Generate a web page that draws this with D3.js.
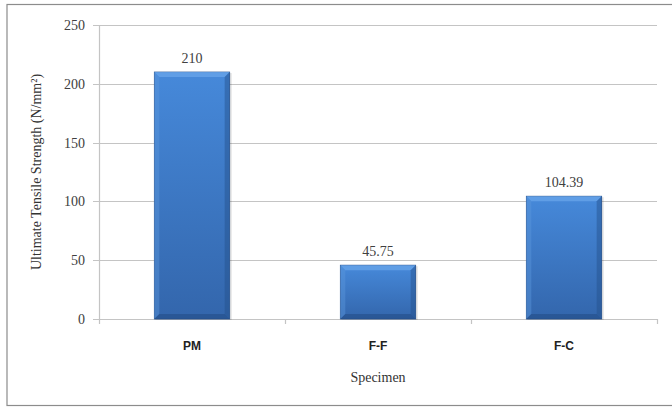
<!DOCTYPE html>
<html>
<head>
<meta charset="utf-8">
<script src="https://cdn.jsdelivr.net/npm/d3@7"></script>
<style>
  html, body { margin: 0; padding: 0; background: #fff; }
  svg { display: block; }
  .serif { font-family: "Liberation Serif", "Times New Roman", serif; }
  .sans { font-family: "Liberation Sans", Arial, sans-serif; }
</style>
</head>
<body>
<svg id="chart" width="672" height="407"></svg>
<script>
// Ultimate tensile strength per specimen type
const categories = ["PM", "F-F", "F-C"];
const strengths = [210, 45.75, 104.39];
const valueLabels = ["210", "45.75", "104.39"];
const yTicks = [0, 50, 100, 150, 200, 250];

const svg = d3.select("#chart");
const plot = { left: 99, right: 657, top: 25, bottom: 319 };

// outer frame
svg.append("rect")
  .attr("x", 7).attr("y", 4.5).attr("width", 668).attr("height", 401)
  .attr("fill", "#fff").attr("stroke", "#8c8c8c").attr("stroke-width", 1.2);

const x = d3.scaleBand().domain(categories).range([plot.left, plot.right]).paddingInner(0).paddingOuter(0);
const y = d3.scaleLinear().domain([0, 250]).range([plot.bottom, plot.top]);

// bar gradient
const defs = svg.append("defs");
const g = defs.append("linearGradient").attr("id", "barFill").attr("x1", 0).attr("y1", 0).attr("x2", 0).attr("y2", 1);
g.append("stop").attr("offset", "0%").attr("stop-color", "#4689da");
g.append("stop").attr("offset", "100%").attr("stop-color", "#3366ac");

// gridlines
svg.append("g").selectAll("line").data(yTicks).join("line")
  .attr("x1", plot.left - 6).attr("x2", plot.right)
  .attr("y1", d => Math.round(y(d)) + 0.5).attr("y2", d => Math.round(y(d)) + 0.5)
  .attr("stroke", "#c4c4c4").attr("stroke-width", 1.2);

// y axis line
svg.append("line")
  .attr("x1", plot.left + 0.5).attr("x2", plot.left + 0.5)
  .attr("y1", plot.top).attr("y2", plot.bottom + 1)
  .attr("stroke", "#c4c4c4").attr("stroke-width", 1.2);

// category boundary ticks on the x axis
const bounds = categories.map(c => x(c)).concat([plot.right]);
svg.append("g").selectAll("line").data(bounds).join("line")
  .attr("x1", d => d + 0.5).attr("x2", d => d + 0.5)
  .attr("y1", plot.bottom).attr("y2", plot.bottom + 5)
  .attr("stroke", "#c4c4c4").attr("stroke-width", 1.2);

// y tick labels
svg.append("g").selectAll("text").data(yTicks).join("text")
  .attr("class", "serif")
  .attr("x", 85).attr("y", d => y(d)).attr("dy", "0.35em")
  .attr("text-anchor", "end")
  .attr("font-size", 14).attr("fill", "#404040")
  .text(d => d);

// bars with bevel
const barW = x.bandwidth() * 0.405;
const bars = svg.append("g").selectAll("g").data(categories.map((c, i) => ({ c, v: strengths[i], label: valueLabels[i] }))).join("g");
bars.each(function(d) {
  const gsel = d3.select(this);
  const x0 = x(d.c) + (x.bandwidth() - barW) / 2;
  const x1 = x0 + barW;
  const y0 = y(d.v), y1 = y(0);
  const b = 5;
  // soft shadow
  gsel.append("rect").attr("x", x0 + 1).attr("y", y0 + 1).attr("width", barW + 1).attr("height", y1 - y0)
    .attr("fill", "#000").attr("opacity", 0.12);
  gsel.append("rect").attr("x", x0).attr("y", y0).attr("width", barW).attr("height", y1 - y0)
    .attr("fill", "url(#barFill)").attr("stroke", "#2b5691").attr("stroke-width", 0.8);
  // top bevel
  gsel.append("polygon")
    .attr("points", [[x0, y0], [x1, y0], [x1 - b, y0 + b], [x0 + b, y0 + b]].map(p => p.join(",")).join(" "))
    .attr("fill", "#6aa6ea").attr("opacity", 0.75);
  // left bevel
  gsel.append("polygon")
    .attr("points", [[x0, y0], [x0 + b, y0 + b], [x0 + b, y1 - b], [x0, y1]].map(p => p.join(",")).join(" "))
    .attr("fill", "#5b96dc").attr("opacity", 0.45);
  // right bevel
  gsel.append("polygon")
    .attr("points", [[x1, y0], [x1 - b, y0 + b], [x1 - b, y1 - b], [x1, y1]].map(p => p.join(",")).join(" "))
    .attr("fill", "#244f8a").attr("opacity", 0.45);
  // bottom bevel
  gsel.append("polygon")
    .attr("points", [[x0, y1], [x0 + b, y1 - b], [x1 - b, y1 - b], [x1, y1]].map(p => p.join(",")).join(" "))
    .attr("fill", "#1f4780").attr("opacity", 0.5);
  // value label
  gsel.append("text")
    .attr("class", "serif")
    .attr("x", (x0 + x1) / 2).attr("y", y0 - 9)
    .attr("text-anchor", "middle")
    .attr("font-size", 14).attr("fill", "#404040")
    .text(d.label);
});

// category labels
svg.append("g").selectAll("text").data(categories).join("text")
  .attr("class", "sans")
  .attr("x", d => x(d) + x.bandwidth() / 2).attr("y", 350)
  .attr("text-anchor", "middle")
  .attr("font-weight", "bold").attr("font-size", 12).attr("fill", "#222")
  .text(d => d);

// axis titles
svg.append("text")
  .attr("class", "serif")
  .attr("x", (plot.left + plot.right) / 2).attr("y", 382)
  .attr("text-anchor", "middle")
  .attr("font-size", 14).attr("fill", "#333")
  .text("Specimen");

svg.append("text")
  .attr("class", "serif")
  .attr("transform", `translate(41,${(plot.top + plot.bottom) / 2}) rotate(-90)`)
  .attr("text-anchor", "middle")
  .attr("font-size", 14).attr("fill", "#333")
  .text("Ultimate Tensile Strength (N/mm²)");
</script>
</body>
</html>
